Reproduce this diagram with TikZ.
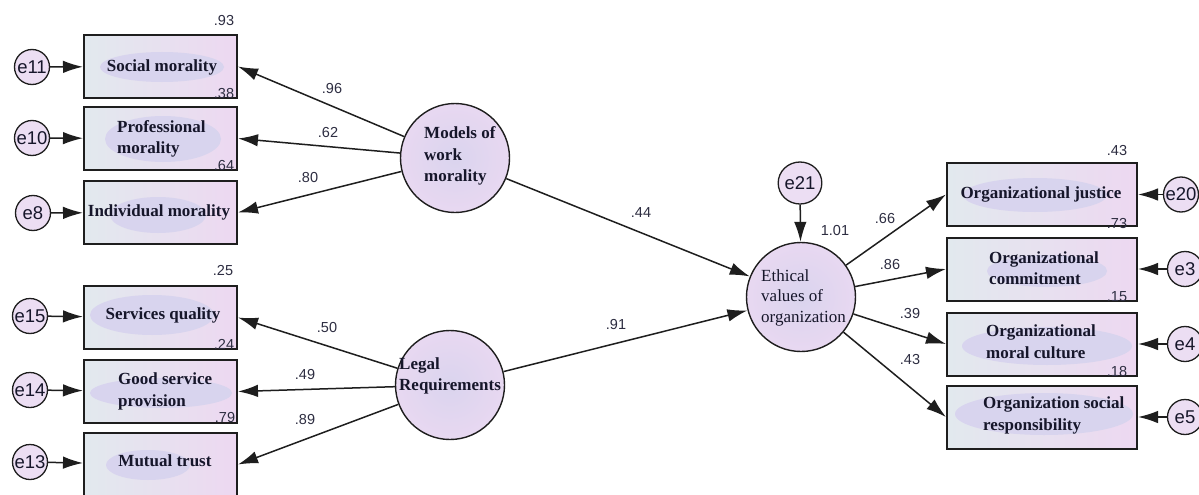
\documentclass[tikz,border=0pt]{standalone}
\usepackage{fontspec}
\setmainfont{Liberation Serif}
\newfontfamily\numfont{Liberation Sans}
\usetikzlibrary{arrows.meta,shapes.geometric}
\definecolor{boxL}{RGB}{226,233,238}
\definecolor{boxR}{RGB}{237,216,241}
\definecolor{ellC}{RGB}{216,212,238}
\definecolor{latC}{RGB}{218,212,238}
\definecolor{latO}{RGB}{232,216,241}
\definecolor{errC}{RGB}{236,222,243}
\definecolor{numC}{RGB}{45,45,65}
\definecolor{txtC}{RGB}{22,22,42}
\definecolor{lineC}{RGB}{30,30,30}
\tikzset{
  obs/.style={rectangle, draw=lineC, line width=2pt, left color=boxL, right color=boxR, minimum width=153pt, minimum height=63pt, inner sep=0pt},
  obsr/.style={obs, minimum width=190pt},
  inell/.style={fill=ellC, draw=none},
  lat/.style={circle, draw=lineC, line width=1.4pt, inner color=latC, outer color=latO, minimum size=109pt, inner sep=0pt},
  err/.style={circle, draw=lineC, line width=1.3pt, fill=errC, minimum size=35pt, inner sep=0pt, font=\numfont\fontsize{18.5}{18.5}\selectfont, text=txtC},
  errel/.style={ellipse, draw=lineC, line width=1.3pt, fill=errC, minimum width=36pt, minimum height=42pt, inner sep=0pt, font=\numfont\fontsize{18.5}{18.5}\selectfont, text=txtC},
  lbl/.style={font=\numfont\fontsize{14.5}{14.5}\selectfont, text=numC, inner sep=0pt},
  txt/.style={font=\bfseries\fontsize{17}{21.5}\selectfont, text=txtC, align=left, inner sep=0pt},
  txtr/.style={font=\fontsize{17}{20.5}\selectfont, text=txtC, align=left, inner sep=0pt},
  arr/.style={-{Latex[length=20pt,width=12.5pt]}, line width=1.5pt, draw=lineC}
}
\begin{document}
\begin{tikzpicture}[x=1pt,y=-1pt]
\useasboundingbox[fill=white] (0,0) rectangle (1199,495);
% observed boxes left
\node[obs] (social) at (160.5,66.5) {};
\node[obs] (prof) at (160.5,138.5) {};
\node[obs] (indiv) at (160.5,212.5) {};
\node[obs] (serv) at (160.5,317.5) {};
\node[obs] (good) at (160.5,391.5) {};
\node[obs] (mutual) at (160.5,464.5) {};
% observed boxes right
\node[obsr] (just) at (1042,194.5) {};
\node[obsr] (comm) at (1042,269) {};
\node[obsr] (moral) at (1042,344) {};
\node[obsr] (socresp) at (1042,417) {};
% inner ellipses
\fill[inell] (162,67) ellipse [x radius=62pt, y radius=15pt];
\fill[inell] (163,139) ellipse [x radius=58pt, y radius=23pt];
\fill[inell] (158,215) ellipse [x radius=48pt, y radius=18pt];
\fill[inell] (152,315) ellipse [x radius=62pt, y radius=20pt];
\fill[inell] (161,393) ellipse [x radius=71pt, y radius=15pt];
\fill[inell] (148,465) ellipse [x radius=42pt, y radius=15pt];
\fill[inell] (1035,195) ellipse [x radius=72pt, y radius=17pt];
\fill[inell] (1047,271) ellipse [x radius=60pt, y radius=16pt];
\fill[inell] (1047,346) ellipse [x radius=85pt, y radius=19pt];
\fill[inell] (1044,414) ellipse [x radius=89pt, y radius=21pt];
% box texts
\node[txt] (tsocial) at (162,67) {Social morality};
\node[txt, anchor=west] (tprof) at (117,139) {Professional\\morality};
\node[txt] (tindiv) at (159,212) {Individual morality};
\node[txt] (tserv) at (163,315) {Services quality};
\node[txt, anchor=west] (tgood) at (118,391.5) {Good service\\provision};
\node[txt] (tmutual) at (165,461) {Mutual trust};
\node[txt] (tjust) at (1041,194) {Organizational justice};
\node[txt, anchor=west] (tcomm) at (989,268) {Organizational\\commitment};
\node[txt, anchor=west] (tmoral) at (986,341.5) {Organizational\\moral culture};
\node[txt, anchor=west] (tsocresp) at (983,415.5) {Organization social\\responsibility};
% latent variables
\node[lat] (models) at (455,158) {};
\node[lat] (legal) at (450,385) {};
\node[lat] (ethic) at (801,297) {};
\node[txt, anchor=west] (tmodels) at (424,156) {Models of\\work\\morality};
\node[txt, anchor=west] (tlegal) at (399,376) {Legal\\Requirements};
\node[txtr, anchor=west] (tethic) at (761,297.5) {Ethical\\values of\\organization};
% error terms
\node[err] (e11) at (32,67) {e11};
\node[err] (e10) at (32,138) {e10};
\node[err] (e8) at (33,213) {e8};
\node[err] (e15) at (30,316) {e15};
\node[err] (e14) at (30,390) {e14};
\node[err] (e13) at (30,462) {e13};
\node[err] (e20) at (1181,194.5) {e20};
\node[err] (e3) at (1185,269) {e3};
\node[err] (e4) at (1185,344) {e4};
\node[err] (e5) at (1185,417) {e5};
\node[errel] (e21) at (800,183) {e21};
% arrows from errors
\draw[arr] (e11) -- (social);
\draw[arr] (e10) -- (prof);
\draw[arr] (e8) -- (indiv);
\draw[arr] (e15) -- (serv);
\draw[arr] (e14) -- (good);
\draw[arr] (e13) -- (mutual);
\draw[arr] (e20) -- (just);
\draw[arr] (e3) -- (comm);
\draw[arr] (e4) -- (moral);
\draw[arr] (e5) -- (socresp);
\draw[arr] (e21) -- (ethic);
% loadings
\draw[arr] (models) -- (social.east);
\draw[arr] (models) -- (prof.east);
\draw[arr] (models) -- (indiv.east);
\draw[arr] (legal) -- (serv.east);
\draw[arr] (legal) -- (good.east);
\draw[arr] (legal) -- (mutual.east);
\draw[arr] (models) -- (ethic);
\draw[arr] (legal) -- (ethic);
\draw[arr] (ethic) -- (just.west);
\draw[arr] (ethic) -- (comm.west);
\draw[arr] (ethic) -- (moral.west);
\draw[arr] (ethic) -- (socresp.west);
% path labels
\node[lbl] (l96) at (332,89) {.96};
\node[lbl] (l62) at (328,133) {.62};
\node[lbl] (l80) at (308,178) {.80};
\node[lbl] (l50) at (327,328) {.50};
\node[lbl] (l49) at (305,375) {.49};
\node[lbl] (l89) at (305,420) {.89};
\node[lbl] (l44) at (641,213) {.44};
\node[lbl] (l91) at (616,325) {.91};
\node[lbl] (l66) at (885,219) {.66};
\node[lbl] (l86) at (890,265) {.86};
\node[lbl] (l39) at (910,314) {.39};
\node[lbl] (l43) at (910,360) {.43};
% squared multiple correlations
\node[lbl] (r93) at (224,21) {.93};
\node[lbl] (r38) at (224,94) {.38};
\node[lbl] (r64) at (224,166) {.64};
\node[lbl] (r25) at (223,271) {.25};
\node[lbl] (r24) at (224,344) {.24};
\node[lbl] (r79) at (225,418) {.79};
\node[lbl] (r43) at (1117,151) {.43};
\node[lbl] (r73) at (1117,224) {.73};
\node[lbl] (r15) at (1117,297) {.15};
\node[lbl] (r18) at (1117,372) {.18};
\node[lbl] (r101) at (835,231) {1.01};
\end{tikzpicture}
\end{document}
